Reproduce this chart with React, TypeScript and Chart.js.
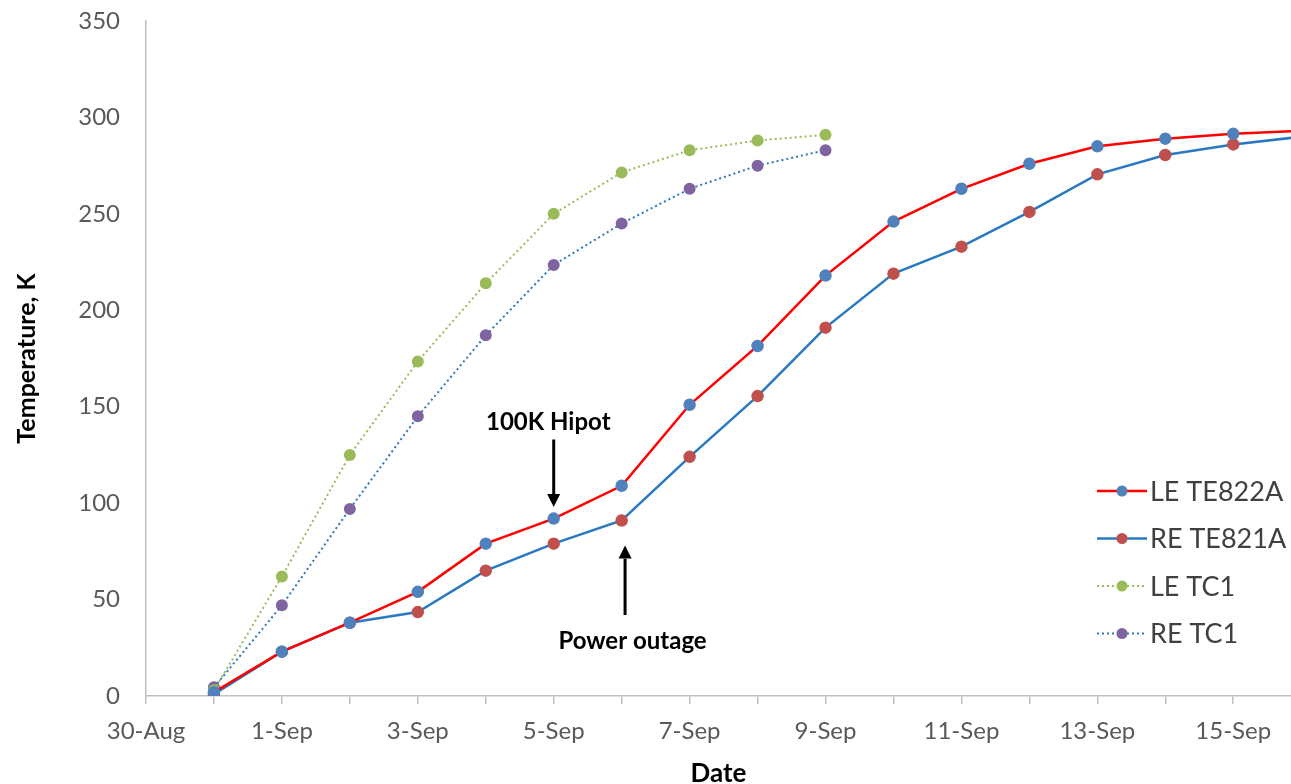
import React, { useEffect, useRef } from "react";
import { Chart, registerables } from "chart.js";

Chart.register(...registerables);

// Axis labels (day index 0 = 30-Aug)
const dateLabels = [
  "30-Aug", "31-Aug", "1-Sep", "2-Sep", "3-Sep", "4-Sep", "5-Sep", "6-Sep", "7-Sep",
  "8-Sep", "9-Sep", "10-Sep", "11-Sep", "12-Sep", "13-Sep", "14-Sep", "15-Sep", "16-Sep",
];
const xAxisMax = 16.85;
const yTicks = [0, 50, 100, 150, 200, 250, 300, 350];

// Sample dates
const teDates = [
  "31-Aug", "1-Sep", "2-Sep", "3-Sep", "4-Sep", "5-Sep", "6-Sep", "7-Sep", "8-Sep",
  "9-Sep", "10-Sep", "11-Sep", "12-Sep", "13-Sep", "14-Sep", "15-Sep", "16-Sep",
];
const tcDates = ["31-Aug", "1-Sep", "2-Sep", "3-Sep", "4-Sep", "5-Sep", "6-Sep", "7-Sep", "8-Sep", "9-Sep"];

// Series values (K)
const leTE822A = [2, 23, 38, 54, 79, 92, 109, 151, 181.5, 218, 246, 263, 276, 285, 289, 291.5, 293];
const reTE821A = [1, 23, 38, 43.5, 65, 79, 91, 124, 155.5, 191, 219, 233, 251, 270.5, 280.5, 286, 290];
const leTC1 = [3, 62, 125, 173.5, 214, 250, 271.5, 283, 288, 291];
const reTC1 = [4.5, 47, 97, 145, 187, 223.5, 245, 263, 275, 283];

// Annotations (day index / K)
const annoLabels = ["100K Hipot", "Power outage"];
const annoTextX = [5.92, 7.16];
const annoTextY = [142, 28.5];
const annoArrowX = [6, 7.05];
const annoArrowFrom = [133, 42];
const annoArrowTo = [98, 78];

const toPoints = (dates: string[], vals: number[]) =>
  vals.map((v, i) => ({ x: dateLabels.indexOf(dates[i]), y: v }));

const legendPlugin = {
  id: "customLegend",
  afterDraw(chart: any) {
    const { ctx, chartArea } = chart;
    const startX = chartArea.right - 194;
    const startY = 491;
    const gap = 47.5;
    ctx.save();
    chart.data.datasets.forEach((ds: any, i: number) => {
      const y = startY + i * gap;
      ctx.beginPath();
      ctx.strokeStyle = ds.borderColor;
      ctx.lineWidth = ds.borderWidth;
      ctx.setLineDash(ds.borderDash || []);
      ctx.moveTo(startX, y);
      ctx.lineTo(startX + 50, y);
      ctx.stroke();
      ctx.setLineDash([]);
      ctx.beginPath();
      ctx.fillStyle = ds.pointBackgroundColor;
      ctx.arc(startX + 25, y, 5.5, 0, Math.PI * 2);
      ctx.fill();
      ctx.fillStyle = "#404040";
      ctx.font = "27px Lato";
      ctx.textBaseline = "middle";
      ctx.textAlign = "left";
      ctx.fillText(ds.label, startX + 53, y + 1);
    });
    ctx.restore();
  },
};

const annotationPlugin = {
  id: "arrows",
  afterDraw(chart: any) {
    const { ctx, scales } = chart;
    const xs = scales.x;
    const ys = scales.y;
    ctx.save();
    annoLabels.forEach((label, i) => {
      ctx.fillStyle = "#000";
      ctx.font = "bold 24px Lato";
      ctx.textAlign = "center";
      ctx.textBaseline = "middle";
      ctx.fillText(label, xs.getPixelForValue(annoTextX[i]), ys.getPixelForValue(annoTextY[i]));
      const ax = xs.getPixelForValue(annoArrowX[i]);
      const y0 = ys.getPixelForValue(annoArrowFrom[i]);
      const y1 = ys.getPixelForValue(annoArrowTo[i]);
      const dir = y1 > y0 ? 1 : -1;
      const headLen = 13;
      ctx.strokeStyle = "#000";
      ctx.lineWidth = 3;
      ctx.beginPath();
      ctx.moveTo(ax, y0);
      ctx.lineTo(ax, y1 - dir * headLen);
      ctx.stroke();
      ctx.beginPath();
      ctx.moveTo(ax, y1);
      ctx.lineTo(ax - 6.5, y1 - dir * headLen);
      ctx.lineTo(ax + 6.5, y1 - dir * headLen);
      ctx.closePath();
      ctx.fill();
    });
    ctx.restore();
  },
};

export default function App() {
  const canvasRef = useRef<HTMLCanvasElement | null>(null);

  useEffect(() => {
    document.body.style.margin = "0";
    const canvas = canvasRef.current;
    if (!canvas) return;
    const chart = new Chart(canvas, {
      type: "line",
      data: {
        datasets: [
          {
            label: "LE TE822A",
            data: toPoints(teDates, leTE822A),
            borderColor: "#FF0000",
            borderWidth: 2.5,
            pointBackgroundColor: "#4F81BD",
            pointBorderColor: "#4F81BD",
            pointRadius: 5,
            tension: 0,
          },
          {
            label: "RE TE821A",
            data: toPoints(teDates, reTE821A),
            borderColor: "#2A78C2",
            borderWidth: 2.5,
            pointBackgroundColor: "#C0504D",
            pointBorderColor: "#C0504D",
            pointRadius: 5,
            tension: 0,
          },
          {
            label: "LE TC1",
            data: toPoints(tcDates, leTC1),
            borderColor: "#9BBB59",
            borderWidth: 2,
            borderDash: [2, 3],
            pointBackgroundColor: "#9BBB59",
            pointBorderColor: "#9BBB59",
            pointRadius: 5,
            tension: 0,
          },
          {
            label: "RE TC1",
            data: toPoints(tcDates, reTC1),
            borderColor: "#2A78C2",
            borderWidth: 2,
            borderDash: [2, 3],
            pointBackgroundColor: "#8064A2",
            pointBorderColor: "#8064A2",
            pointRadius: 5,
            tension: 0,
          },
        ],
      },
      options: {
        animation: false,
        responsive: false,
        maintainAspectRatio: false,
        layout: { autoPadding: false, padding: { top: 21, right: 0, left: 0, bottom: 0 } },
        plugins: { legend: { display: false }, tooltip: { enabled: false } },
        scales: {
          x: {
            type: "linear",
            min: 0,
            max: xAxisMax,
            afterFit: (s: any) => {
              s.height = 88;
              s.paddingLeft = 0;
              s.paddingRight = 0;
            },
            afterBuildTicks: (s: any) => {
              s.ticks = dateLabels.map((_, i) => ({ value: i })).filter((t) => t.value <= xAxisMax);
            },
            border: { display: true, color: "#BFBFBF", width: 1.5 },
            grid: {
              drawOnChartArea: false,
              drawTicks: true,
              tickLength: 8,
              color: "#BFBFBF",
              lineWidth: 1.5,
            },
            ticks: {
              autoSkip: false,
              maxRotation: 0,
              padding: 13,
              color: "#595959",
              font: { family: "Lato", size: 24 },
              callback: (v: any) => (Number(v) % 2 === 0 ? dateLabels[Number(v)] : ""),
            },
            title: {
              display: true,
              text: "Date",
              color: "#000",
              font: { family: "Lato", size: 26, weight: "bold" },
              padding: { top: -5, bottom: -5 },
            },
          },
          y: {
            min: 0,
            max: 350,
            afterFit: (s: any) => {
              s.width = 146;
              s.paddingTop = 0;
              s.paddingBottom = 0;
            },
            afterBuildTicks: (s: any) => {
              s.ticks = yTicks.map((v) => ({ value: v }));
            },
            border: { display: true, color: "#BFBFBF", width: 1.5 },
            grid: { drawOnChartArea: false, drawTicks: false },
            ticks: {
              padding: 26,
              color: "#595959",
              font: { family: "Lato", size: 24 },
            },
            title: {
              display: true,
              text: "Temperature, K",
              color: "#000",
              font: { family: "Lato", size: 25, weight: "bold" },
              padding: { top: 12, bottom: 0 },
            },
          },
        },
      },
      plugins: [legendPlugin, annotationPlugin],
    } as any);
    return () => chart.destroy();
  }, []);

  return (
    <div style={{ width: 1291, height: 784, background: "#fff" }}>
      <canvas ref={canvasRef} width={1291} height={784} style={{ display: "block" }} />
    </div>
  );
}
